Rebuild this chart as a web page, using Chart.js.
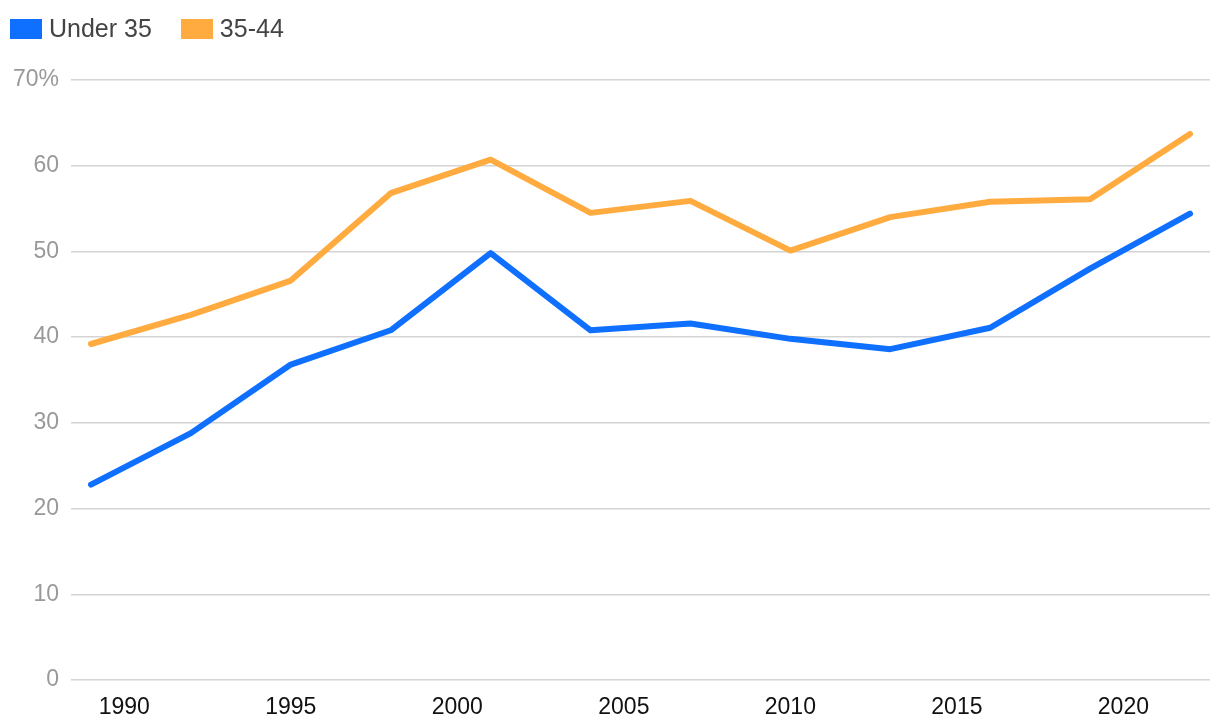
<!DOCTYPE html>
<html>
<head>
<meta charset="utf-8">
<script src="https://cdn.jsdelivr.net/npm/chart.js@4.4.1/dist/chart.umd.min.js"></script>
<style>
  html, body { margin: 0; padding: 0; background: #fff; }
  #wrap { position: relative; width: 1220px; height: 726px; }
  #legend { position: absolute; left: 10px; top: 14px; display: flex; align-items: center;
            font-family: "Liberation Sans", Arial, sans-serif; font-size: 25px; color: #444; }
  .item { display: flex; align-items: center; margin-right: 29px; }
  .sw { width: 32px; height: 20px; margin-right: 7px; }
</style>
</head>
<body>
<div id="wrap">
  <canvas id="c" width="1220" height="726"></canvas>
  <div id="legend"></div>
</div>
<script>
const years = [1989, 1992, 1995, 1998, 2001, 2004, 2007, 2010, 2013, 2016, 2019, 2022];
const under35 = [22.8, 28.8, 36.8, 40.8, 49.8, 40.8, 41.6, 39.8, 38.6, 41.1, 48.0, 54.4];
const age35to44 = [39.2, 42.6, 46.6, 56.8, 60.7, 54.5, 55.9, 50.1, 54.0, 55.8, 56.1, 63.7];
const seriesNames = ["Under 35", "35-44"];
const seriesColors = ["#0f6fff", "#ffab40"];
const xTicks = [1990, 1995, 2000, 2005, 2010, 2015, 2020];
const yTicks = [0, 10, 20, 30, 40, 50, 60, 70];

const legend = document.getElementById('legend');
seriesNames.forEach((n, i) => {
  const it = document.createElement('div'); it.className = 'item';
  const sw = document.createElement('div'); sw.className = 'sw'; sw.style.background = seriesColors[i];
  const t = document.createElement('span'); t.textContent = n;
  it.appendChild(sw); it.appendChild(t); legend.appendChild(it);
});

const toPts = arr => years.map((y, i) => ({ x: y, y: arr[i] }));

new Chart(document.getElementById('c'), {
  type: 'line',
  data: {
    datasets: [
      { label: seriesNames[0], data: toPts(under35), borderColor: seriesColors[0], backgroundColor: seriesColors[0],
        borderWidth: 6, pointRadius: 0, tension: 0, borderCapStyle: 'round', borderJoinStyle: 'round' },
      { label: seriesNames[1], data: toPts(age35to44), borderColor: seriesColors[1], backgroundColor: seriesColors[1],
        borderWidth: 6, pointRadius: 0, tension: 0, borderCapStyle: 'round', borderJoinStyle: 'round' }
    ]
  },
  options: {
    responsive: false,
    animation: false,
    layout: { padding: { top: 80, right: 10, left: 0, bottom: 0 } },
    plugins: { legend: { display: false }, tooltip: { enabled: false } },
    scales: {
      x: {
        type: 'linear', min: 1988.4, max: 2022.6,
        afterBuildTicks: s => { s.ticks = xTicks.map(v => ({ value: v })); },
        afterFit: s => { s.height = 46; },
        grid: { display: false, drawTicks: false },
        border: { display: false },
        ticks: { padding: 14, color: '#111', font: { family: 'Liberation Sans', size: 23 },
                 callback: v => String(v), maxRotation: 0, autoSkip: false }
      },
      y: {
        min: 0, max: 70,
        afterBuildTicks: s => { s.ticks = yTicks.map(v => ({ value: v })); },
        afterFit: s => { s.width = 71; },
        grid: { color: '#d4d4d4', lineWidth: 1.5, drawTicks: false },
        border: { display: false },
        ticks: { padding: 12, color: '#999', font: { family: 'Liberation Sans', size: 23 },
                 callback: v => v === 70 ? '70%' : String(v) }
      }
    }
  }
});
</script>
</body>
</html>
